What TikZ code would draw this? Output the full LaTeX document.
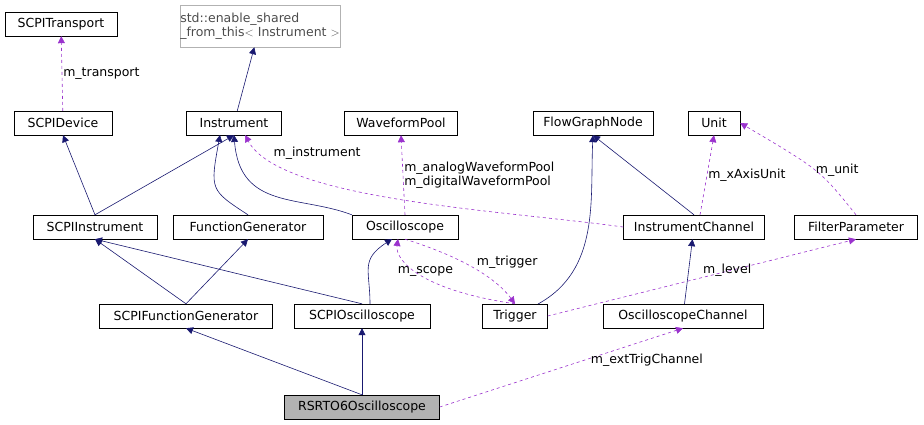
\documentclass[tikz,border=0pt]{standalone}
\usepackage{fontspec}
\setmainfont{DejaVu Sans}
\usetikzlibrary{arrows.meta,positioning}
\definecolor{inh}{HTML}{191970}
\definecolor{use}{HTML}{9A32CD}
\tikzset{
    cls/.style={draw,rectangle,inner sep=0pt,minimum height=24pt,font=\fontsize{12.5}{14}\selectfont},
    base/.style={cls,draw=gray!60},
    inh/.style={-{Triangle[length=7pt,width=7pt]},color=inh,semithick},
    use/.style={-{Triangle[length=7pt,width=7pt]},color=use,dashed,semithick},
    lbl/.style={font=\fontsize{12.5}{14}\selectfont,text=black,inner sep=1pt}
}
\begin{document}
\begin{tikzpicture}[x=1pt,y=-1pt]
\useasboundingbox (0,0) rectangle (924,424);

\node[cls,minimum width=112pt] (transport) at (61,24) {SCPITransport};
\node[base,minimum width=144pt,minimum height=42pt,align=left,text=black!70] (shared) at (260,26) {std::enable\_shared\\\_from\_this$<$ Instrument $>$};
\node[cls,minimum width=98pt] (device) at (63,123) {SCPIDevice};
\node[cls,minimum width=95pt] (instrument) at (234,123) {Instrument};
\node[cls,minimum width=113pt] (wfpool) at (401,123) {WaveformPool};
\node[cls,minimum width=120pt] (flownode) at (593,123) {FlowGraphNode};
\node[cls,minimum width=52pt] (unit) at (714,123) {Unit};

\node[cls,minimum width=124pt] (scpiinst) at (95,227) {SCPIInstrument};
\node[cls,minimum width=150pt] (funcgen) at (248,227) {FunctionGenerator};
\node[cls,minimum width=106pt] (scope) at (405,227) {Oscilloscope};
\node[cls,minimum width=141pt] (instchan) at (694,227) {InstrumentChannel};
\node[cls,minimum width=123pt] (filtparam) at (856,227) {FilterParameter};

\node[cls,minimum width=173pt] (scpifg) at (186,316) {SCPIFunctionGenerator};
\node[cls,minimum width=136pt] (scpiscope) at (362,316) {SCPIOscilloscope};
\node[cls,minimum width=65pt] (trigger) at (515,316) {Trigger};
\node[cls,minimum width=160pt] (scopechan) at (683,316) {OscilloscopeChannel};

\node[cls,minimum width=155pt,fill=gray!60] (rsrto) at (362,407) {RSRTO6Oscilloscope};

% inheritance
\draw[inh] (instrument) -- (shared);
\draw[inh] (scpiinst.north) -- (device.south);
\draw[inh] (scpiinst.north) -- (instrument.south);
\draw[inh] (funcgen.north) .. controls (210,190) .. (220,135);
\draw[inh] (scope.north west) .. controls (300,195) and (240,210) .. (234,135);
\draw[inh] (instchan.north) -- (flownode.south);
\draw[inh] (scpifg.north) -- (scpiinst.south);
\draw[inh] (scpifg.north) -- (funcgen.south);
\draw[inh] (scpiscope.north) -- (scpiinst.south);
\draw[inh] (370,304) .. controls (370,270) and (360,260) .. (392,239);
\draw[inh] (538,304) .. controls (600,270) and (590,200) .. (flownode.south);
\draw[inh] (scopechan) -- (instchan);
\draw[inh] (rsrto.north) -- (scpifg.south);
\draw[inh] (rsrto) -- (scpiscope);

% usage
\draw[use] (device) -- node[lbl,right] {m\_transport} (transport);
\draw[use] (instchan.west) .. controls (500,210) and (280,200) .. node[lbl,pos=0.85,above right] {m\_instrument} (245,135);
\draw[use] (scope.north) -- node[lbl,right,align=left] {m\_analogWaveformPool\\m\_digitalWaveformPool} (wfpool.south);
\draw[use] (700,215) -- node[lbl,right] {m\_xAxisUnit} (unit.south);
\draw[use] (filtparam.north) .. controls (820,170) .. node[lbl,right] {m\_unit} (unit.east);
\draw[use] (trigger.north) .. controls (420,290) and (395,260) .. node[lbl,pos=0.45,above] {m\_scope} (398,239);
\draw[use] (scope.south) .. controls (440,250) and (490,270) .. node[lbl,pos=0.6,above right] {m\_trigger} (trigger.north);
\draw[use] (trigger.east) -- node[lbl,pos=0.5,above right] {m\_level} (filtparam.south);
\draw[use] (rsrto.east) -- node[lbl,pos=0.6,right=4pt] {m\_extTrigChannel} (scopechan.south);
\end{tikzpicture}
\end{document}
